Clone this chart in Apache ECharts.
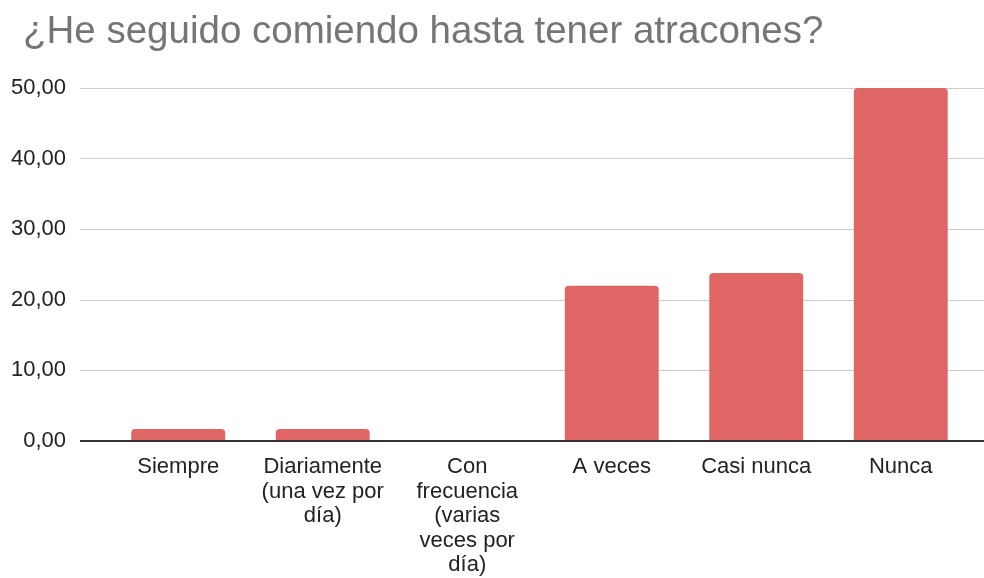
<!DOCTYPE html>
<html>
<head>
<meta charset="utf-8">
<script src="https://cdn.jsdelivr.net/npm/echarts@6/dist/echarts.min.js"></script>
<style>
  html, body { margin: 0; padding: 0; background: #fff; }
  #chart { width: 984px; height: 578px; }
</style>
</head>
<body>
<div id="chart"></div>
<script>
const titleText = "¿He seguido comiendo hasta tener atracones?";
const categories = [
  "Siempre",
  "Diariamente\n(una vez por\ndía)",
  "Con\nfrecuencia\n(varias\nveces por\ndía)",
  "A veces",
  "Casi nunca",
  "Nunca"
];
const values = [1.7, 1.7, 0, 22.0, 23.8, 50.0];
const yTicks = { min: 0, max: 50, interval: 10 };

const chart = echarts.init(document.getElementById("chart"));
const fmt = (v) => v.toFixed(2).replace(".", ",");
const font = "Liberation Sans";

chart.setOption({
  animation: false,
  textStyle: { fontFamily: font },
  title: {
    text: titleText,
    left: 18,
    top: 8,
    textStyle: { fontFamily: font, fontSize: 38.5, fontWeight: 400, color: "#757575" }
  },
  grid: [
    // background grid: gridlines and y labels
    { left: 80, right: 0, top: 88, bottom: 137 },
    // bars
    { left: 106, right: 11, top: 88, bottom: 137 }
  ],
  xAxis: [
    { gridIndex: 0, type: "value", show: false, min: 0, max: 1 },
    {
      gridIndex: 1,
      type: "category",
      data: categories,
      axisLine: { show: false },
      axisTick: { show: false },
      axisLabel: {
        interval: 0,
        margin: 14,
        fontSize: 22,
        lineHeight: 24.5,
        color: "#222",
        fontFamily: font
      }
    }
  ],
  yAxis: [
    {
      gridIndex: 0,
      type: "value",
      min: yTicks.min,
      max: yTicks.max,
      interval: yTicks.interval,
      axisLine: { show: false },
      axisTick: { show: false },
      splitLine: { lineStyle: { color: "#cccccc", width: 1 } },
      axisLabel: {
        margin: 14,
        fontSize: 22,
        color: "#222",
        fontFamily: font,
        formatter: fmt
      }
    },
    {
      gridIndex: 1,
      type: "value",
      min: yTicks.min,
      max: yTicks.max,
      interval: yTicks.interval,
      show: false
    }
  ],
  series: [
    {
      type: "bar",
      xAxisIndex: 1,
      yAxisIndex: 1,
      data: values,
      barCategoryGap: "35%",
      itemStyle: { color: "#e06666", borderRadius: [4, 4, 0, 0] },
      z: 2
    },
    {
      type: "line",
      xAxisIndex: 0,
      yAxisIndex: 0,
      data: [],
      markLine: {
        silent: true,
        symbol: "none",
        label: { show: false },
        lineStyle: { color: "#333", width: 2, type: "solid" },
        data: [{ yAxis: 0 }]
      },
      z: 3
    }
  ]
});
</script>
</body>
</html>
